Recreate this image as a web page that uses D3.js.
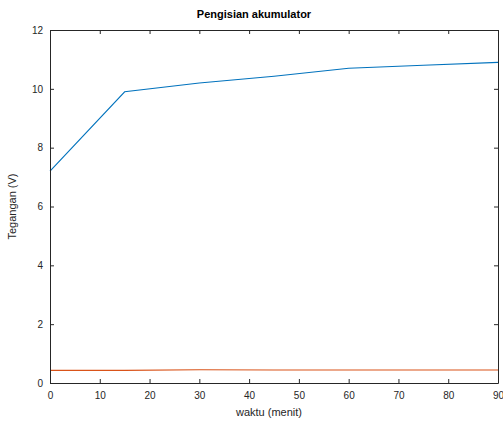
<!DOCTYPE html>
<html><head><meta charset="utf-8">
<script src="https://cdn.jsdelivr.net/npm/d3@7"></script>
<style>body{margin:0;background:#fff}svg{display:block}text{font-family:"Liberation Sans",Arial,sans-serif}</style>
</head><body><svg id="c" width="503" height="423"></svg>
<script>
const time = [0, 15, 30, 45, 60, 75, 90];
const voltageCharge = [7.2, 9.9, 10.2, 10.43, 10.7, 10.8, 10.9];
const voltageLow = [0.43, 0.43, 0.45, 0.44, 0.44, 0.44, 0.44];
const xTicks = [0,10,20,30,40,50,60,70,80,90];
const yTicks = [0,2,4,6,8,10,12];
const titleText = "Pengisian akumulator";
const xLabel = "waktu (menit)";
const yLabel = "Tegangan (V)";

const svg = d3.select("#c");
const L=50, R=498, T=30, B=383;
const x = d3.scaleLinear().domain([0,90]).range([L,R]);
const y = d3.scaleLinear().domain([0,12]).range([B,T]);
const axisColor="#262626";

const line = d3.line().x((d,i)=>x(time[i])).y(d=>y(d));
svg.append("path").datum(voltageCharge).attr("d",line).attr("fill","none").attr("stroke","#0072BD").attr("stroke-width",1.1);
svg.append("path").datum(voltageLow).attr("d",line).attr("fill","none").attr("stroke","#D95319").attr("stroke-width",1.1);

function styleAxis(g, showText){
  g.select(".domain").attr("stroke",axisColor).attr("stroke-width",1);
  g.selectAll(".tick line").attr("stroke",axisColor).attr("stroke-width",1);
  g.selectAll(".tick text").attr("fill",axisColor).attr("font-size",10).attr("font-family","Liberation Sans, Arial, sans-serif");
  if(!showText) g.selectAll(".tick text").remove();
}
const gxB = svg.append("g").attr("transform",`translate(0,${B})`).call(d3.axisBottom(x).tickValues(xTicks).tickSizeInner(-4).tickSizeOuter(0).tickPadding(9));
styleAxis(gxB,true);
const gxT = svg.append("g").attr("transform",`translate(0,${T})`).call(d3.axisTop(x).tickValues(xTicks).tickSizeInner(-4).tickSizeOuter(0));
styleAxis(gxT,false);
const gyL = svg.append("g").attr("transform",`translate(${L},0)`).call(d3.axisLeft(y).tickValues(yTicks).tickSizeInner(-4).tickSizeOuter(0).tickPadding(7));
styleAxis(gyL,true);
const gyR = svg.append("g").attr("transform",`translate(${R},0)`).call(d3.axisRight(y).tickValues(yTicks).tickSizeInner(-4).tickSizeOuter(0));
styleAxis(gyR,false);

svg.append("text").attr("x",254).attr("y",18).attr("text-anchor","middle").attr("font-weight","bold").attr("font-size",11).attr("fill","#000").text(titleText);
svg.append("text").attr("x",269).attr("y",416).attr("text-anchor","middle").attr("font-size",11).attr("fill",axisColor).text(xLabel);
svg.append("text").attr("transform",`translate(16,${(T+B)/2}) rotate(-90)`).attr("text-anchor","middle").attr("font-size",11).attr("fill",axisColor).text(yLabel);
</script></body></html>
